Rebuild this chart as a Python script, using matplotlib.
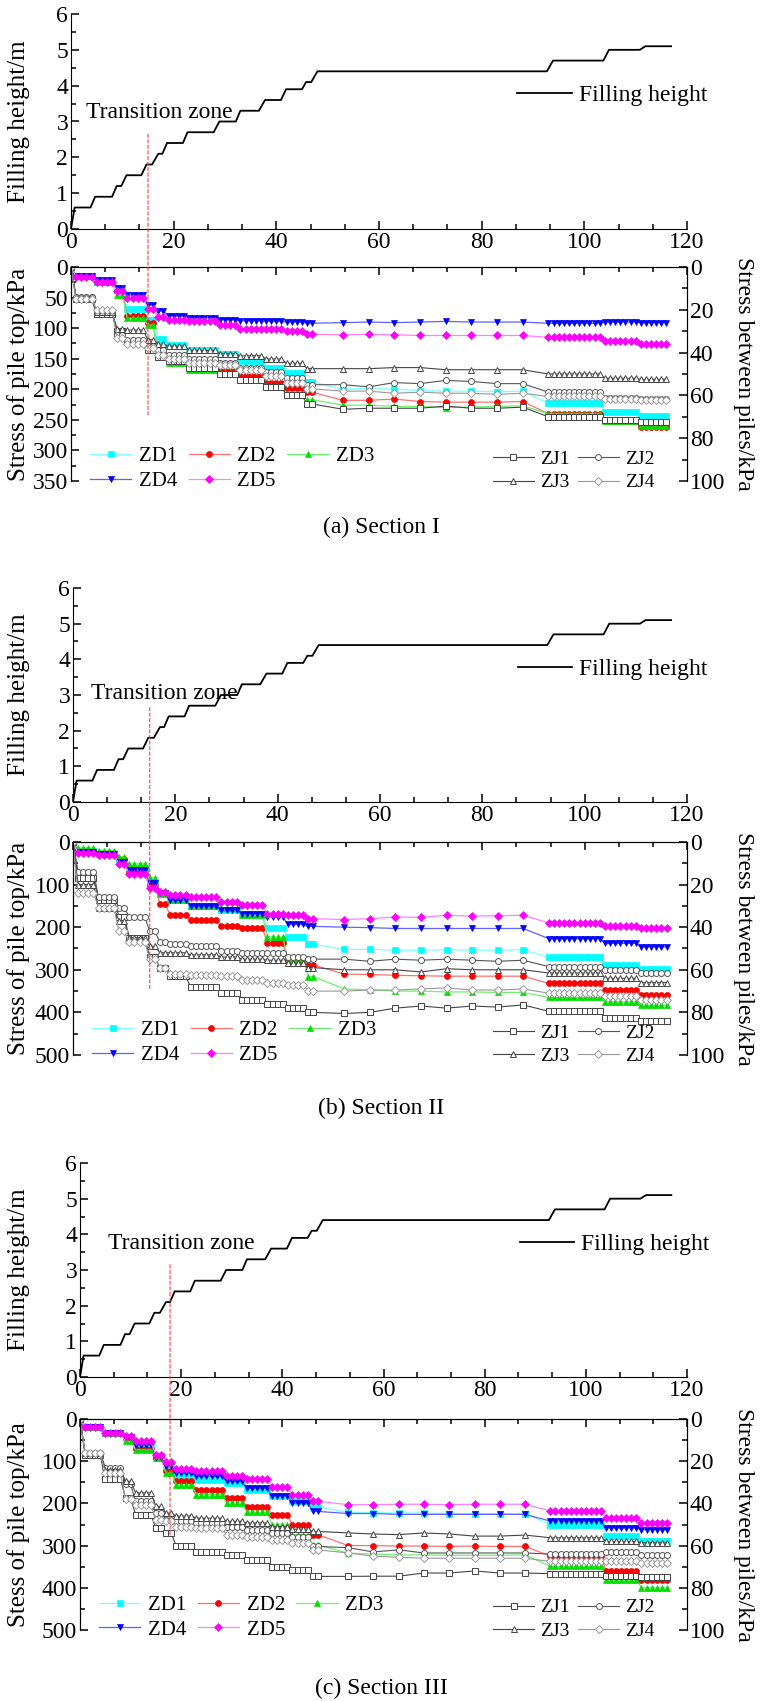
import matplotlib
matplotlib.use("Agg")
import matplotlib.pyplot as plt
import numpy as np
from matplotlib.patches import ConnectionPatch
from matplotlib.ticker import MultipleLocator

plt.rcParams["font.family"] = "Liberation Serif"

# ---- filling history (same for all three sections) ----
FILL_T = [0, 0.7, 3.8, 4.7, 8.0, 8.9, 9.8, 10.8, 13.7, 14.7, 15.8, 17.0, 17.8, 18.7,
          21.8, 22.7, 27.8, 28.9, 32.1, 33.0, 36.6, 37.8, 40.9, 41.9, 45.0, 45.8,
          46.8, 48.0, 92.7, 93.9, 103.7, 104.8, 110.8, 111.9, 116.9]
FILL_H = [0, 0.6, 0.6, 0.9, 0.9, 1.2, 1.2, 1.5, 1.5, 1.8, 1.8, 2.1, 2.1, 2.4,
          2.4, 2.7, 2.7, 3.0, 3.0, 3.3, 3.3, 3.6, 3.6, 3.9, 3.9, 4.1,
          4.1, 4.4, 4.4, 4.7, 4.7, 5.0, 5.0, 5.1, 5.1]

# ---- reading times: daily during filling, sparse in the pause, daily again ----
T_EARLY = list(range(0, 48))
T_PAUSE = [53, 58, 63, 68, 73, 78, 83, 88]
T_LATE = list(range(93, 117))
# number of daily readings in each loading stage (early and late periods)
EARLY_STAGES = [1, 4, 4, 2, 4, 2, 2, 4, 6, 4, 5, 4, 4, 2]
LATE_STAGES = [11, 7, 6]

# ---- Section I : pile-top stress (kPa) per stage / pause reading / late stage ----
ZD1_I = ([0, 15, 24, 38, 68, 86, 118, 128, 136, 142, 153, 166, 174, 188],
         [200, 198, 200, 202, 203, 203, 204, 203], [223, 237, 244])
ZD2_I = ([0, 15, 24, 40, 80, 92, 142, 152, 163, 170, 178, 190, 198, 205],
         [218, 218, 216, 220, 221, 221, 221, 220], [240, 252, 262])
ZD3_I = ([0, 15, 25, 46, 84, 95, 145, 157, 168, 174, 184, 195, 207, 217],
         [226, 226, 228, 228, 230, 229, 228, 227], [240, 252, 260])
ZD4_I = ([0, 15, 22, 35, 46, 62, 72, 80, 83, 86, 88, 89, 90, 92],
         [91, 90, 91, 90, 89, 90, 90, 90], [92, 90, 91])
ZD5_I = ([0, 16, 25, 40, 50, 68, 82, 87, 89, 95, 101, 102, 104, 110],
         [111, 110, 111, 112, 112, 112, 112, 112], [115, 121, 126])
# stress between piles (kPa)
ZJ1_I = ([0, 15, 22, 30, 35, 39, 42, 44, 47, 50, 53, 56, 60, 64],
         [66.5, 66, 66, 66, 65, 66, 66, 65.5], [70, 71.5, 72.5])
ZJ2_I = ([0, 14, 21, 32, 34, 37, 39, 41, 43, 45, 47, 49, 52, 55],
         [55, 56, 54, 54.5, 53, 53.5, 54.5, 54.5], [58.5, 61, 61.5])
ZJ3_I = ([0, 14, 21, 29, 29.5, 34, 36, 37, 39, 40.5, 41.5, 43, 45, 47.5],
         [47.5, 47.5, 47, 47, 48, 48, 48, 48], [50, 52, 52.5])
ZJ4_I = ([0, 15, 20, 33, 36, 38, 41, 43, 45, 46, 48, 51, 54, 57],
         [58, 58, 59, 58.5, 59, 59, 59.5, 59], [60.5, 61.5, 62])

# ---- Section II ----
ZD1_II = ([0, 20, 28, 45, 62, 94, 120, 135, 151, 160, 168, 203, 223, 240],
          [252, 252, 254, 254, 253, 254, 254, 253], [271, 289, 297])
ZD2_II = ([0, 20, 27, 41, 70, 102, 145, 172, 184, 198, 201, 238, 277, 289],
          [310, 311, 313, 314, 315, 315, 315, 315], [332, 348, 358])
ZD3_II = ([0, 14, 20, 35, 51, 84, 121, 135, 151, 156, 172, 223, 277, 316],
          [345, 347, 350, 350, 352, 352, 353, 353], [365, 375, 383])
ZD4_II = ([0, 23, 28, 47, 66, 96, 120, 137, 151, 160, 168, 176, 193, 198],
          [200, 201, 203, 203, 203, 203, 203, 203], [227, 238, 246])
ZD5_II = ([0, 26, 31, 51, 74, 109, 117, 125, 130, 141, 148, 168, 172, 180],
          [182, 180, 176, 177, 172, 174, 173, 172], [190, 198, 203])
ZJ1_II = ([0, 17, 27, 35, 45, 54, 59, 63, 68, 71, 74, 76, 78, 80],
          [80.5, 80, 78, 77, 78, 77, 77.5, 76.5], [79.5, 82.5, 84])
ZJ2_II = ([0, 14, 26, 31, 35, 42, 47, 48, 49, 51, 52, 52, 54, 55],
          [55, 56, 55, 55.5, 55, 55.5, 56, 55.5], [58.5, 60, 61.5])
ZJ3_II = ([0, 20, 31, 37, 45, 49, 52, 52, 53, 54, 55, 55.5, 57, 59],
          [60, 60, 60, 61, 59.5, 60, 60, 60], [61.5, 64, 66])
ZJ4_II = ([0, 24, 31, 42, 47, 55, 59, 62, 62.5, 63, 65, 66, 67, 70],
          [70, 69.5, 69.5, 69, 68.5, 69.5, 69.5, 69], [71, 72.5, 74])

# ---- Section III ----
ZD1_III = ([0, 19, 32, 45, 61, 88, 112, 132, 144, 152, 169, 183, 195, 209],
           [221, 222, 223, 223, 224, 224, 224, 225], [250, 278, 290])
ZD2_III = ([0, 19, 32, 45, 71, 92, 124, 148, 168, 187, 209, 227, 251, 274],
           [300, 300, 301, 301, 302, 301, 302, 302], [325, 361, 381])
ZD3_III = ([0, 19, 33, 53, 73, 92, 128, 156, 179, 199, 221, 251, 274, 298],
           [318, 320, 322, 322, 323, 323, 323, 322], [349, 381, 400])
ZD4_III = ([0, 19, 32, 43, 61, 89, 112, 128, 136, 148, 164, 182, 199, 219],
           [224, 224, 226, 226, 226, 226, 226, 226], [242, 258, 262])
ZD5_III = ([0, 19, 32, 40, 53, 85, 103, 119, 124, 136, 142, 161, 179, 195],
           [203, 203, 202, 202, 203, 202, 202, 202], [218, 234, 246])
ZJ1_III = ([0, 17, 28.5, 37.5, 45.4, 51.7, 54, 60, 62.8, 64.3, 66.7, 70, 71.5, 74.6],
           [74.6, 74.5, 74.5, 73, 73, 72, 73, 73], [73.3, 74.6, 75])
ZJ2_III = ([0, 16, 23, 31, 39, 44.6, 47.7, 48.5, 49.3, 51, 52.5, 54, 55.7, 60.4],
           [61, 63, 62, 63.5, 63.5, 63.5, 63.5, 63.5], [64, 63.2, 64.3])
ZJ3_III = ([0, 16, 24, 29.5, 35, 41.4, 44.6, 46, 47, 48.5, 49.3, 51, 52.2, 53.3],
           [54, 54.5, 54.8, 54, 54.5, 55.5, 55.5, 55], [56.3, 58, 58.7])
ZJ4_III = ([0, 16, 25.6, 38, 40.6, 47.7, 48.5, 51, 51.7, 54.9, 55.7, 57.2, 58.8, 62],
           [63.5, 65, 65.5, 66, 66, 66, 66, 66], [67.5, 67.5, 68.3])

ZD_NAMES = ["ZD1", "ZD2", "ZD3", "ZD4", "ZD5"]
ZJ_NAMES = ["ZJ1", "ZJ2", "ZJ3", "ZJ4"]
SECTIONS = [
    ("(a) Section I", "Stress of pile top/kPa", 350, 50, 15.0,
     [ZD1_I, ZD2_I, ZD3_I, ZD4_I, ZD5_I], [ZJ1_I, ZJ2_I, ZJ3_I, ZJ4_I]),
    ("(b) Section II", "Stress of pile top/kPa", 500, 100, 15.0,
     [ZD1_II, ZD2_II, ZD3_II, ZD4_II, ZD5_II], [ZJ1_II, ZJ2_II, ZJ3_II, ZJ4_II]),
    ("(c) Section III", "Stess of pile top/kPa", 500, 100, 17.8,
     [ZD1_III, ZD2_III, ZD3_III, ZD4_III, ZD5_III], [ZJ1_III, ZJ2_III, ZJ3_III, ZJ4_III]),
]

# ---- styles / layout (pixels of the 762x1701 canvas) ----
ZD_STYLE = [("#00FFFF", "#7FFFFF", "s"), ("#FF0000", "#FF7070", "o"),
            ("#00E000", "#70F070", "^"), ("#0000FF", "#6060FF", "v"),
            ("#FF00FF", "#FF80FF", "D")]
ZJ_STYLE = [("#444444", "s"), ("#555555", "o"), ("#444444", "^"), ("#999999", "D")]
LAYOUT = [  # x0, top panel (y0, y1), stress panel (y0, y1), caption y,
            # transition text (t, h), dashed line (top h, bottom stress)
    (71, (14, 229), (267, 481), 527, (3.0, 3.25), (2.65, 242)),
    (73, (588, 802), (842, 1055), 1108, (3.5, 3.05), (2.65, 345)),
    (80, (1163, 1377), (1419, 1630), 1688, (5.5, 3.75), (3.15, 278)),
]
W, H = 762, 1701
X1 = 687
FS = 17


def expand(series):
    early, pause, late = series
    return np.concatenate([np.repeat(early, EARLY_STAGES), pause,
                           np.repeat(late, LATE_STAGES)])


def rect(x0, y0, y1):
    return [x0 / W, 1 - y1 / H, (X1 - x0) / W, (y1 - y0) / H]


def style_ticks(a):
    a.tick_params(which="both", direction="in", labelsize=FS, width=1.1, pad=2)
    a.tick_params(which="major", length=6)
    a.tick_params(which="minor", length=3.5)


T = np.concatenate([T_EARLY, T_PAUSE, T_LATE])

fig = plt.figure(figsize=(W / 100, H / 100), dpi=100)

for (cap, ylab, ymax, ystep, tz, zd, zj), (x0, tp, bp, capy, txt, dash) in zip(SECTIONS, LAYOUT):
    lab_x = (30 - x0) / (X1 - x0)

    # ---------- filling height panel ----------
    axt = fig.add_axes(rect(x0, *tp))
    axt.plot(FILL_T, FILL_H, color="black", lw=1.3, label="Filling height")
    axt.set_xlim(0, 120); axt.set_ylim(0, 6)
    axt.xaxis.set_major_locator(MultipleLocator(20))
    axt.xaxis.set_minor_locator(MultipleLocator(20 / 3))
    axt.yaxis.set_major_locator(MultipleLocator(1))
    axt.yaxis.set_minor_locator(MultipleLocator(0.5))
    for s in ("top", "right"):
        axt.spines[s].set_visible(False)
    style_ticks(axt)
    axt.set_ylabel("Filling height/m", fontsize=18)
    axt.yaxis.set_label_coords(lab_x, 0.5)
    axt.text(txt[0], txt[1], "Transition zone", fontsize=FS, va="center")
    axt.legend(loc="center left", bbox_to_anchor=(0.69, 0.62), frameon=False,
               fontsize=FS, handlelength=2.3, handletextpad=0.3)

    # ---------- stress panel ----------
    ax = fig.add_axes(rect(x0, *bp))
    ax2 = ax.twinx()
    zd_lines, zj_lines = [], []
    for vals, name, (mc, lc, mk) in zip(zd, ZD_NAMES, ZD_STYLE):
        ln, = ax.plot(T, expand(vals), color=lc, lw=0.9, marker=mk, ms=4.3,
                      mfc=mc, mec=mc, mew=0.5, label=name)
        zd_lines.append(ln)
    for vals, name, (ec, mk) in zip(zj, ZJ_NAMES, ZJ_STYLE):
        ln, = ax2.plot(T, expand(vals), color=ec, lw=0.8, marker=mk, ms=4.3,
                       mfc="white", mec=ec, mew=0.7, label=name)
        zj_lines.append(ln)
    ax.set_xlim(0, 120); ax.set_ylim(ymax, 0); ax2.set_ylim(100, 0)
    ax.xaxis.tick_top()
    ax.xaxis.set_major_locator(MultipleLocator(20))
    ax.xaxis.set_minor_locator(MultipleLocator(20 / 3))
    ax.yaxis.set_major_locator(MultipleLocator(ystep))
    ax.yaxis.set_minor_locator(MultipleLocator(ystep / 2))
    ax2.yaxis.set_major_locator(MultipleLocator(20))
    ax2.yaxis.set_minor_locator(MultipleLocator(10))
    for a in (ax, ax2):
        a.spines["bottom"].set_visible(False)
        style_ticks(a)
    ax.tick_params(axis="x", labeltop=False, labelbottom=False)
    ax.set_ylabel(ylab, fontsize=18)
    ax.yaxis.set_label_coords(lab_x, 0.5)
    ax2.set_ylabel("Stress between piles/kPa", fontsize=FS, rotation=270)
    ax2.yaxis.set_label_coords((754 - x0) / (X1 - x0), 0.5)

    # legends are filled column by column, so order handles to read row-wise
    zd_order = [0, 3, 1, 4, 2]
    leg_zd = ax2.legend([zd_lines[i] for i in zd_order], [ZD_NAMES[i] for i in zd_order],
                        ncol=3, loc="lower left", bbox_to_anchor=(0.0, -0.135),
                        frameon=False, fontsize=15, handlelength=2.0,
                        handletextpad=0.35, columnspacing=0.55, labelspacing=0.25)
    ax2.add_artist(leg_zd)
    zj_order = [0, 2, 1, 3]
    ax2.legend([zj_lines[i] for i in zj_order], [ZJ_NAMES[i] for i in zj_order],
               ncol=2, loc="lower right", bbox_to_anchor=(0.975, -0.13),
               frameon=False, fontsize=14, handlelength=2.1,
               handletextpad=0.3, columnspacing=0.45, labelspacing=0.3)

    # transition-zone marker spanning both panels
    fig.add_artist(ConnectionPatch(xyA=(tz, dash[0]), coordsA=axt.transData,
                                   xyB=(tz, dash[1]), coordsB=ax.transData,
                                   color="#FF4040", ls=(0, (3, 2)), lw=0.8))

    fig.text(0.5, 1 - capy / H, cap, ha="center", va="center", fontsize=FS)

fig.savefig("out.png", dpi=100)
